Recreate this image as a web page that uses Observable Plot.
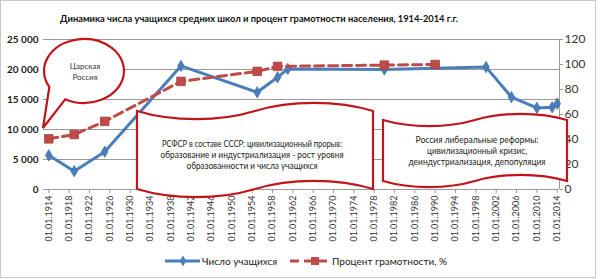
<!DOCTYPE html>
<html>
<head>
<meta charset="utf-8">
<script src="https://cdn.jsdelivr.net/npm/d3@7"></script>
<script src="https://cdn.jsdelivr.net/npm/@observablehq/plot@0.6"></script>
<style>
  html, body { margin: 0; padding: 0; background: #fff; }
  #chart { width: 600px; height: 279px; position: relative; }
</style>
</head>
<body>
<div id="chart"></div>
<script>
// ---- data ----
const studentYears = [1914, 1919, 1925, 1940, 1955, 1959, 1961, 1980, 2000, 2005, 2010, 2013, 2014];
const students     = [5700, 3050, 6300, 20600, 16200, 18700, 20100, 20000, 20400, 15400, 13600, 13700, 14300];
const literacyYears = [1914, 1919, 1925, 1940, 1955, 1959, 1980, 1990];
const literacy      = [40.5, 44, 54.5, 86.5, 94.5, 98.5, 99.5, 100];
const xTickYears = d3.range(1914, 2015, 4);
const leftTicks  = [0, 5000, 10000, 15000, 20000, 25000];
const rightTicks = [0, 20, 40, 60, 80, 100, 120];

const title = "Динамика числа учащихся средних школ и процент грамотности населения, 1914-2014 г.г.";
const seriesNames = ["Число учащихся", "Процент грамотности, %"];
const noteTsar = ["Царская", "Россия"];
const noteUSSR = ["РСФСР в составе СССР: цивилизационный прорыв:",
                  "образование и индустриализация - рост уровня",
                  "образованности и числа учащихся"];
const noteRF = ["Россия либеральные реформы:",
                "цивилизационный кризис,",
                "деиндустриализация, депопуляция"];

// ---- derived tables ----
const Y_MAX = 25000, P_MAX = 120;
const pctToY = p => p * Y_MAX / P_MAX;
const studentRows = studentYears.map((year, i) => ({year, value: students[i]}));
const literacyRows = literacyYears.map((year, i) => ({year, value: pctToY(literacy[i])}));

const BLUE = "#4A7EBB", RED = "#BE4B48", GRID = "#9a9a9a";
const FONT = "Lato, 'Open Sans', sans-serif";

const plot = Plot.plot({
  width: 600, height: 279,
  marginTop: 39, marginBottom: 90, marginLeft: 43, marginRight: 41,
  x: {domain: [1912.96, 2014.45], axis: null},
  y: {domain: [0, Y_MAX], axis: null},
  style: {fontFamily: FONT, background: "#fff", overflow: "visible"},
  marks: [
    Plot.gridY(leftTicks.filter(d => d > 0), {stroke: GRID, strokeOpacity: 1}),
    Plot.ruleY([0], {stroke: GRID}),
    Plot.ruleX([2014.45], {y1: 0, y2: Y_MAX, stroke: GRID}),
    Plot.axisY(leftTicks, {anchor: "left", label: null, tickSize: 0, tickPadding: 5, fontSize: 10, fontWeight: "bold", fill: "#1a1a1a",
      tickFormat: d => d3.format(",")(d).replace(/,/g, " ")}),
    Plot.axisY(rightTicks.map(pctToY), {anchor: "right", label: null, tickSize: 3, tickPadding: 2, fontSize: 12, fill: "#333", stroke: GRID,
      tickFormat: d => String(Math.round(d * P_MAX / Y_MAX))}),
    Plot.axisX(xTickYears, {anchor: "bottom", label: null, tickRotate: -90, tickSize: 4, tickPadding: 2, fontSize: 9, fill: "#333", stroke: GRID,
      tickFormat: d => "01.01." + d}),
    Plot.line(studentRows, {x: "year", y: "value", stroke: BLUE, strokeWidth: 3}),
    Plot.dot(studentRows, {x: "year", y: "value", symbol: "diamond", r: 3.4, fill: BLUE, stroke: "#3f70aa", strokeWidth: 0.8}),
    Plot.line(literacyRows, {x: "year", y: "value", stroke: RED, strokeWidth: 3, strokeDasharray: "9,5"}),
    Plot.dot(literacyRows, {x: "year", y: "value", symbol: "square", r: 4.8, fill: RED, stroke: "#a8403d", strokeWidth: 0.8})
  ]
});

document.getElementById("chart").appendChild(plot);
const svg = d3.select(plot);

// frame
svg.append("rect").attr("x", 0.5).attr("y", 0.5).attr("width", 595).attr("height", 277)
  .attr("fill", "none").attr("stroke", "#c8c8c8").attr("stroke-width", 1);

// title
svg.append("text").attr("x", 60).attr("y", 22).attr("text-anchor", "start")
  .attr("textLength", 398).attr("lengthAdjust", "spacingAndGlyphs")
  .attr("font-family", FONT).attr("font-size", 10).attr("font-weight", "bold").attr("fill", "#111").text(title);

// ---- annotations ----
const noteStroke = {stroke: "#C0151B", "stroke-width": 2.2, fill: "#fff"};
function styled(sel, s) { for (const k in s) sel.attr(k, s[k]); return sel; }

// speech bubble
{
  const cx = 84, cy = 71, rx = 40, ry = 32, tip = [43, 128];
  const a1 = 118 * Math.PI / 180, a2 = 150 * Math.PI / 180;
  const p1 = [cx + rx * Math.cos(a1), cy + ry * Math.sin(a1)];
  const p2 = [cx + rx * Math.cos(a2), cy + ry * Math.sin(a2)];
  const d = `M${p1[0]},${p1[1]} A${rx},${ry} 0 1 0 ${p2[0]},${p2[1]} L${tip[0]},${tip[1]} Z`;
  styled(svg.append("path").attr("d", d), noteStroke);
  noteTsar.forEach((t, i) => svg.append("text").attr("x", 85).attr("y", 69 + i * 11).attr("text-anchor", "middle")
    .attr("font-family", FONT).attr("font-size", 8).attr("fill", "#333").text(t));
}

function wave(L, R, yt, yb, a) {
  const w = R - L, M = L + w / 2;
  const top = `M${L},${yt} C${L + w * 0.15},${yt + a * 1.35} ${M - w * 0.15},${yt + a * 1.35} ${M},${yt} ` +
              `C${M + w * 0.15},${yt - a * 1.35} ${R - w * 0.15},${yt - a * 1.35} ${R},${yt}`;
  const bot = `L${R},${yb} C${R - w * 0.15},${yb - a * 1.35} ${M + w * 0.15},${yb - a * 1.35} ${M},${yb} ` +
              `C${M - w * 0.15},${yb + a * 1.35} ${L + w * 0.15},${yb + a * 1.35} ${L},${yb} Z`;
  return top + bot;
}
function noteLines(lines, cx, ys, lens, size) {
  lines.forEach((t, i) => svg.append("text").attr("x", cx).attr("y", ys[i]).attr("text-anchor", "middle")
    .attr("textLength", lens[i]).attr("lengthAdjust", "spacingAndGlyphs")
    .attr("font-family", FONT).attr("font-size", size).attr("fill", "#222").text(t));
}

styled(svg.append("path").attr("d", wave(137, 373, 111, 189, 8)), noteStroke);
noteLines(noteUSSR, 252, [147, 158, 169], [180, 183, 131], 8.5);

styled(svg.append("path").attr("d", wave(383, 567, 120, 181, 6)), noteStroke);
noteLines(noteRF, 477, [143, 154, 165], [123, 100, 137], 9);

// ---- legend ----
{
  const ly = 261;
  svg.append("line").attr("x1", 165).attr("x2", 200).attr("y1", ly).attr("y2", ly).attr("stroke", BLUE).attr("stroke-width", 3);
  svg.append("path").attr("d", d3.symbol(d3.symbolDiamond, 36)()).attr("transform", `translate(183,${ly})`).attr("fill", BLUE);
  svg.append("text").attr("x", 202).attr("y", ly + 3.5).attr("text-anchor", "start")
    .attr("font-family", FONT).attr("font-size", 10).attr("fill", "#222").text(seriesNames[0]);
  svg.append("line").attr("x1", 290).attr("x2", 329).attr("y1", ly).attr("y2", ly).attr("stroke", RED).attr("stroke-width", 3).attr("stroke-dasharray", "9,5");
  svg.append("rect").attr("x", 311).attr("y", ly - 4).attr("width", 8).attr("height", 8).attr("fill", RED);
  svg.append("text").attr("x", 332).attr("y", ly + 3.5).attr("text-anchor", "start")
    .attr("font-family", FONT).attr("font-size", 10).attr("fill", "#222").text(seriesNames[1]);
}
</script>
</body>
</html>
